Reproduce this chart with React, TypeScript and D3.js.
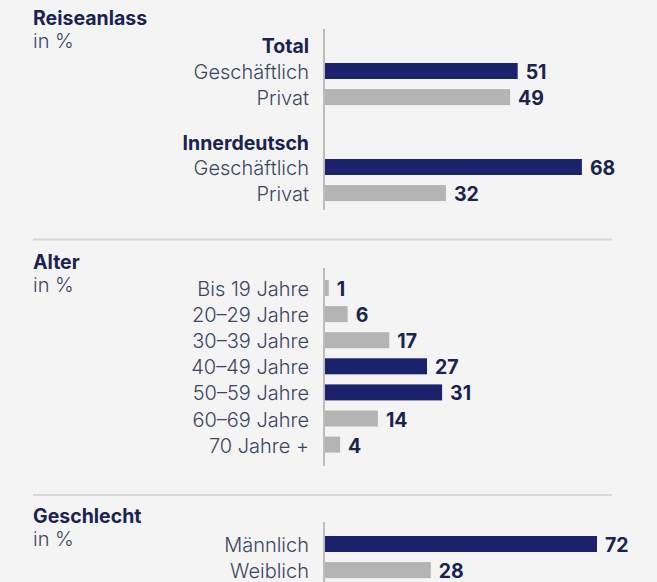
import React from "react";
import * as d3 from "d3";

const reiseGroups = ["Total", "Innerdeutsch"];
const reiseCategories = ["Geschäftlich", "Privat"];
const reiseTotalValues = [51, 49];
const reiseInnerValues = [68, 32];
const reiseHighlight = [true, false];

const alterCategories = ["Bis 19 Jahre", "20–29 Jahre", "30–39 Jahre", "40–49 Jahre", "50–59 Jahre", "60–69 Jahre", "70 Jahre +"];
const alterValues = [1, 6, 17, 27, 31, 14, 4];
const alterHighlight = [false, false, false, true, true, false, false];

const geschlechtCategories = ["Männlich", "Weiblich"];
const geschlechtValues = [72, 28];
const geschlechtHighlight = [true, false];

const sectionTitles = ["Reiseanlass", "Alter", "Geschlecht"];
const unitLabel = "in %";

const W = 657;
const H = 582;
const NAVY = "#1b216b";
const GREY = "#b4b4b4";
const TEXT_DARK = "#1a2350";
const TEXT_LABEL = "#3b4563";
const FONT = "Inter, 'Noto Sans', sans-serif";

const x = d3.scaleLinear().domain([0, 72]).range([325, 597]);
const BAR_H = 16;
const STEP = 26.1;
const LABEL_X = 309;
const AXIS_X = 324;
const LABEL_FS = 20;
const TITLE_FS = 19.5;

type Row = { label: string; value: number; hi: boolean };

function Rows({ rows, y0 }: { rows: Row[]; y0: number }) {
  const y = d3.scaleLinear().domain([0, 1]).range([y0, y0 + STEP]);
  return (
    <g>
      {rows.map((r, i) => {
        const base = y(i);
        return (
          <g key={r.label + i}>
            <text x={LABEL_X} y={base} textAnchor="end" fontSize={LABEL_FS} fill={TEXT_LABEL} fontWeight={300}>
              {r.label}
            </text>
            <rect x={x(0)} y={base - BAR_H} width={x(r.value) - x(0)} height={BAR_H} fill={r.hi ? NAVY : GREY} />
            <text x={x(r.value) + 8} y={base} fontSize={19.5} fontWeight={700} fill={TEXT_DARK}>
              {r.value}
            </text>
          </g>
        );
      })}
    </g>
  );
}

function Title({ text, y }: { text: string; y: number }) {
  return (
    <g>
      <text x={33} y={y} fontSize={TITLE_FS} fontWeight={700} fill={TEXT_DARK}>{text}</text>
      <text x={33} y={y + 23} fontSize={LABEL_FS} fontWeight={300} fill={TEXT_LABEL}>{unitLabel}</text>
    </g>
  );
}

export default function App() {
  const mk = (cats: string[], vals: number[], hi: boolean[]): Row[] =>
    cats.map((c, i) => ({ label: c, value: vals[i], hi: hi[i] }));
  return (
    <div style={{ position: "fixed", left: 0, top: 0, width: W, height: H, background: "#f4f4f4" }}>
      <svg width={W} height={H} style={{ display: "block", fontFamily: FONT }}>
        <rect width={W} height={H} fill="#f4f4f4" />
        {/* Reiseanlass */}
        <Title text={sectionTitles[0]} y={25} />
        <line x1={AXIS_X} x2={AXIS_X} y1={29} y2={210} stroke="#bcbcbc" strokeWidth={2} />
        <text x={LABEL_X} y={53} textAnchor="end" fontSize={TITLE_FS} fontWeight={700} fill={TEXT_DARK}>{reiseGroups[0]}</text>
        <Rows rows={mk(reiseCategories, reiseTotalValues, reiseHighlight)} y0={79} />
        <text x={LABEL_X} y={150} textAnchor="end" fontSize={TITLE_FS} fontWeight={700} fill={TEXT_DARK}>{reiseGroups[1]}</text>
        <Rows rows={mk(reiseCategories, reiseInnerValues, reiseHighlight)} y0={175} />
        <line x1={33} x2={612} y1={239.5} y2={239.5} stroke="#d8d8d8" strokeWidth={2} />
        {/* Alter */}
        <Title text={sectionTitles[1]} y={269} />
        <line x1={AXIS_X} x2={AXIS_X} y1={268} y2={466} stroke="#bcbcbc" strokeWidth={2} />
        <Rows rows={mk(alterCategories, alterValues, alterHighlight)} y0={296} />
        <line x1={33} x2={612} y1={495} y2={495} stroke="#d8d8d8" strokeWidth={2} />
        {/* Geschlecht */}
        <Title text={sectionTitles[2]} y={523} />
        <line x1={AXIS_X} x2={AXIS_X} y1={522} y2={582} stroke="#bcbcbc" strokeWidth={2} />
        <Rows rows={mk(geschlechtCategories, geschlechtValues, geschlechtHighlight)} y0={552} />
      </svg>
    </div>
  );
}
